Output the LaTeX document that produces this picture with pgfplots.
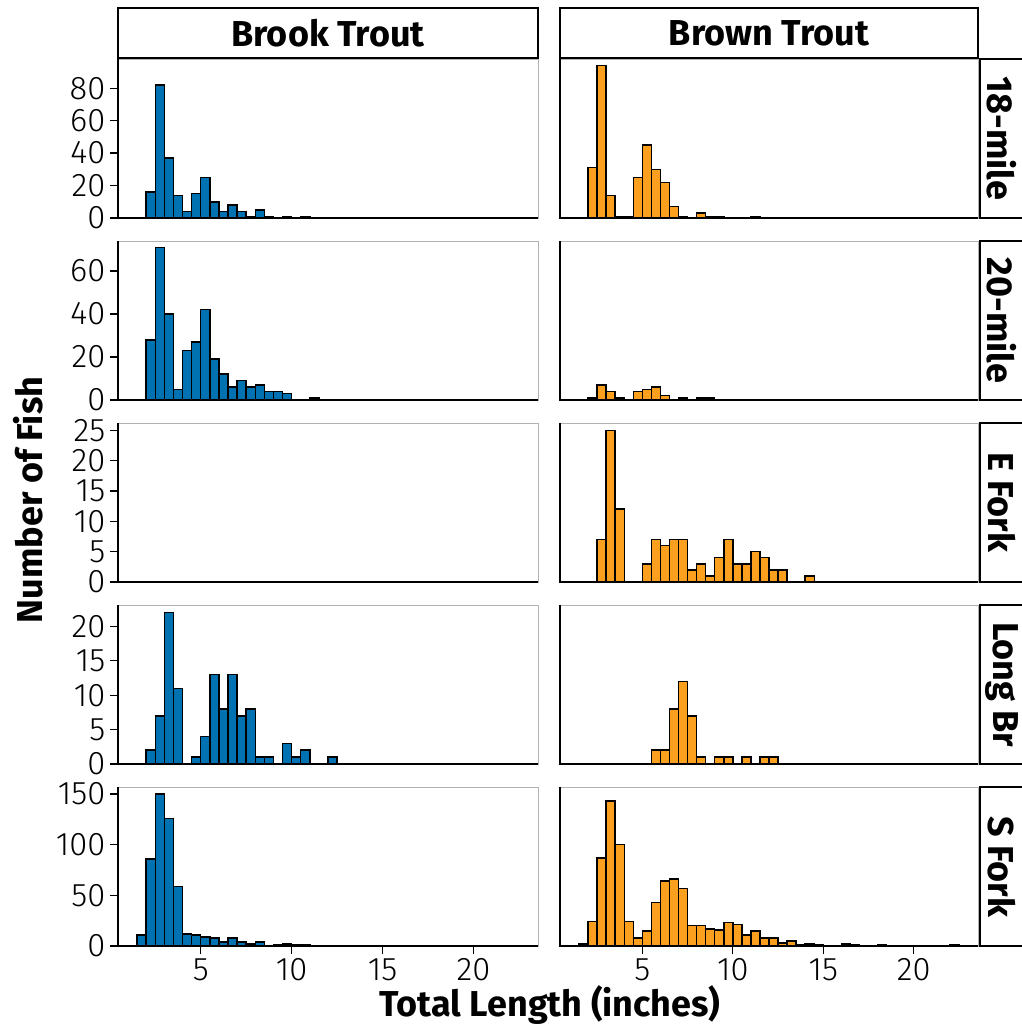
\documentclass[border=0pt]{standalone}
\usepackage{fontspec}
\setmainfont{Fira Sans}
\newfontfamily\ticklight{Fira Sans Light}
\usepackage{pgfplots}
\pgfplotsset{compat=1.18}
\definecolor{brookblue}{RGB}{0,114,178}
\definecolor{brownorange}{RGB}{250,160,30}
\pgfplotsset{
  panel/.style={scale only axis, height=119.25pt, xmin=0.45, xmax=23.55, ymin=0,
    anchor=south west,
    axis line style={draw=gray!60, line width=0.6pt},
    tick align=outside, major tick length=6pt,
    tick style={black, line width=1pt},
    xtick pos=bottom, ytick pos=left,
    /pgf/number format/assume math mode=true,
    tick label style={font=\ticklight\fontsize{24.5}{24.5}\selectfont},
    after end axis/.code={\draw[black, line width=1.1pt] (rel axis cs:0,1) -- (rel axis cs:0,0) -- (rel axis cs:1,0);}},
  leftcol/.style={panel, width=315pt},
  rightcol/.style={panel, width=313.5pt, ytick=\empty},
  midrow/.style={xtick=\empty},
  botrow/.style={xtick={5,10,15,20}},
  brook/.style={ybar interval, fill=brookblue, draw=black, line width=1.1pt},
  brown/.style={ybar interval, fill=brownorange, draw=black, line width=1.1pt},
}
\begin{document}
\begin{tikzpicture}[x=1pt,y=1pt]
\path[use as bounding box] (0,0) rectangle (766.5,769.5);
% Row 1: 18-mile
\begin{axis}[leftcol, midrow, at={(88.5pt,606pt)}, ymax=98, ytick={0,20,40,60,80}]
\addplot[brook] coordinates {(2.0,16) (2.5,82) (3.0,37) (3.5,14) (4.0,4) (4.5,15) (5.0,25) (5.5,10) (6.0,4) (6.5,8) (7.0,4) (7.5,1) (8.0,5) (8.5,1) (9.0,0) (9.5,1) (10.0,0) (10.5,1) (11.0,0)};
\end{axis}
\begin{axis}[rightcol, midrow, at={(420pt,606pt)}, ymax=98]
\addplot[brown] coordinates {(2.0,31) (2.5,94) (3.0,14) (3.5,1) (4.0,1) (4.5,25) (5.0,45) (5.5,30) (6.0,22) (6.5,7) (7.0,1) (7.5,0) (8.0,3) (8.5,1) (9.0,1) (9.5,0) (10.0,0) (10.5,0) (11.0,1) (11.5,0)};
\end{axis}
% Row 2: 20-mile
\begin{axis}[leftcol, midrow, at={(88.5pt,469.5pt)}, ymax=74, ytick={0,20,40,60}]
\addplot[brook] coordinates {(2.0,28) (2.5,71) (3.0,40) (3.5,5) (4.0,23) (4.5,27) (5.0,42) (5.5,19) (6.0,12) (6.5,6) (7.0,9) (7.5,6) (8.0,7) (8.5,4) (9.0,4) (9.5,3) (10.0,0) (10.5,0) (11.0,1) (11.5,0)};
\end{axis}
\begin{axis}[rightcol, midrow, at={(420pt,469.5pt)}, ymax=74]
\addplot[brown] coordinates {(2.0,1) (2.5,7) (3.0,4) (3.5,1) (4.0,0) (4.5,4) (5.0,5) (5.5,6) (6.0,2) (6.5,0) (7.0,1) (7.5,0) (8.0,1) (8.5,1) (9.0,0)};
\end{axis}
% Row 3: E Fork
\begin{axis}[leftcol, midrow, at={(88.5pt,333pt)}, ymax=26.2, ytick={0,5,10,15,20,25}]
\addplot[draw=none, forget plot] coordinates {(1,0)};
\end{axis}
\begin{axis}[rightcol, midrow, at={(420pt,333pt)}, ymax=26.2]
\addplot[brown] coordinates {(2.5,7) (3.0,25) (3.5,12) (4.0,0) (4.5,0) (5.0,3) (5.5,7) (6.0,6) (6.5,7) (7.0,7) (7.5,2) (8.0,3) (8.5,1) (9.0,4) (9.5,7) (10.0,3) (10.5,3) (11.0,5) (11.5,4) (12.0,2) (12.5,2) (13.0,0) (13.5,0) (14.0,1) (14.5,0)};
\end{axis}
% Row 4: Long Br
\begin{axis}[leftcol, midrow, at={(88.5pt,196.5pt)}, ymax=23.1, ytick={0,5,10,15,20}]
\addplot[brook] coordinates {(2.0,2) (2.5,7) (3.0,22) (3.5,11) (4.0,0) (4.5,1) (5.0,4) (5.5,13) (6.0,8) (6.5,13) (7.0,7) (7.5,8) (8.0,1) (8.5,1) (9.0,0) (9.5,3) (10.0,1) (10.5,2) (11.0,0) (11.5,0) (12.0,1) (12.5,0)};
\end{axis}
\begin{axis}[rightcol, midrow, at={(420pt,196.5pt)}, ymax=23.1]
\addplot[brown] coordinates {(5.5,2) (6.0,2) (6.5,8) (7.0,12) (7.5,7) (8.0,1) (8.5,0) (9.0,1) (9.5,1) (10.0,0) (10.5,1) (11.0,0) (11.5,1) (12.0,1) (12.5,0)};
\end{axis}
% Row 5: S Fork
\begin{axis}[leftcol, botrow, at={(88.5pt,60pt)}, ymax=157, ytick={0,50,100,150}]
\addplot[brook] coordinates {(1.5,11) (2.0,86) (2.5,150) (3.0,126) (3.5,59) (4.0,12) (4.5,11) (5.0,9) (5.5,8) (6.0,4) (6.5,8) (7.0,4) (7.5,2) (8.0,4) (8.5,0) (9.0,1) (9.5,2) (10.0,1) (10.5,1) (11.0,0)};
\end{axis}
\begin{axis}[rightcol, botrow, at={(420pt,60pt)}, ymax=157]
\addplot[brown] coordinates {(1.5,2) (2.0,24) (2.5,87) (3.0,143) (3.5,100) (4.0,24) (4.5,8) (5.0,15) (5.5,43) (6.0,64) (6.5,66) (7.0,57) (7.5,20) (8.0,20) (8.5,17) (9.0,16) (9.5,23) (10.0,21) (10.5,11) (11.0,15) (11.5,8) (12.0,8) (12.5,3) (13.0,5) (13.5,1) (14.0,2) (14.5,1) (15.0,0) (15.5,0) (16.0,2) (16.5,1) (17.0,0) (17.5,0) (18.0,1) (18.5,0) (19.0,0) (19.5,0) (20.0,0) (20.5,0) (21.0,0) (21.5,0) (22.0,1) (22.5,0)};
\end{axis}
% strips
\begin{scope}[line width=1.1pt, font=\fontsize{27}{27}\selectfont\bfseries]
\draw[fill=white] (88.5,726) rectangle (403.5,763.5);
\node at (246,744.75) {Brook Trout};
\draw[fill=white] (420,726) rectangle (733.5,763.5);
\node at (576.75,744.75) {Brown Trout};
\foreach \yb/\lab in {606/18-mile, 469.5/20-mile, 333/E Fork, 196.5/Long Br, 60/S Fork}{
  \draw[fill=white] (735,\yb) rectangle (780,\yb+119.25);
  \node[rotate=-90] at (751.5,\yb+59.6) {\lab};
}
\node[rotate=90] at (21,394.5) {Number of Fish};
\node at (412.5,15.75) {Total Length (inches)};
\end{scope}
\end{tikzpicture}
\end{document}
